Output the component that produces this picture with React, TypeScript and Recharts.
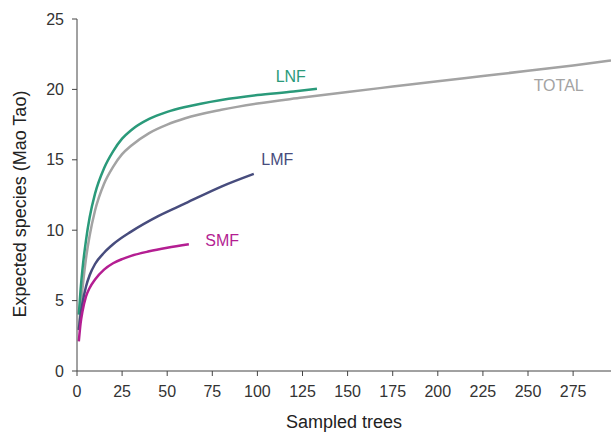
import { LineChart, Line, XAxis, YAxis, ReferenceDot, Label } from 'recharts';

// rarefaction curves, values
const totalTrees = [1, 2, 3, 5, 7, 10, 15, 20, 25, 30, 40, 50, 60, 80, 100, 125, 150, 175, 200, 225, 250, 275, 296];
const totalSpecies = [3.0, 4.5, 5.8, 8.0, 9.6, 11.4, 13.3, 14.5, 15.4, 16.0, 16.9, 17.5, 17.95, 18.55, 19.0, 19.42, 19.82, 20.2, 20.58, 20.95, 21.32, 21.7, 22.05];

const lnfTrees = [1, 2, 3, 5, 7, 10, 15, 20, 25, 30, 40, 50, 60, 80, 100, 120, 133];
const lnfSpecies = [4.0, 5.8, 7.2, 9.3, 10.9, 12.6, 14.4, 15.6, 16.5, 17.1, 17.9, 18.4, 18.75, 19.25, 19.6, 19.85, 20.05];

const lmfTrees = [1, 2, 3, 5, 7, 10, 15, 20, 30, 45, 60, 80, 98];
const lmfSpecies = [2.9, 4.0, 4.8, 6.0, 6.8, 7.6, 8.4, 9.0, 9.9, 11.0, 11.9, 13.1, 14.0];

const smfTrees = [1, 2, 3, 5, 7, 10, 15, 20, 25, 30, 40, 50, 62];
const smfSpecies = [2.1, 3.4, 4.2, 5.3, 5.9, 6.5, 7.2, 7.65, 7.95, 8.18, 8.5, 8.75, 9.0];

const xTicks = [0, 25, 50, 75, 100, 125, 150, 175, 200, 225, 250, 275];
const yTicks = [0, 5, 10, 15, 20, 25];

const toPoints = (xs: number[], ys: number[]) => xs.map((x, i) => ({ x, y: ys[i] }));

const series = [
  { name: 'TOTAL', color: '#a3a3a3', data: toPoints(totalTrees, totalSpecies), labelAt: [267, 20.3] },
  { name: 'LNF', color: '#2a9a7a', data: toPoints(lnfTrees, lnfSpecies), labelAt: [118.5, 20.9] },
  { name: 'LMF', color: '#474c7d', data: toPoints(lmfTrees, lmfSpecies), labelAt: [111, 15.05] },
  { name: 'SMF', color: '#b41e92', data: toPoints(smfTrees, smfSpecies), labelAt: [80.5, 9.3] },
];

const axisColor = '#444';

export default function App() {
  return (
    <div style={{ position: 'absolute', left: 0, top: 0, fontFamily: '"Liberation Sans", Arial, sans-serif' }}>
      <LineChart width={611} height={433} margin={{ top: 19, right: 0, bottom: 0, left: 0 }}>
        <XAxis
          type="number"
          dataKey="x"
          domain={[0, 296]}
          ticks={xTicks}
          height={62}
          stroke={axisColor}
          tickSize={5}
          tickMargin={10}
          tick={{ fill: '#333', fontSize: 16 }}
        >
          <Label value="Sampled trees" position="insideBottom" offset={5} fill="#222" fontSize={18} />
        </XAxis>
        <YAxis
          type="number"
          domain={[0, 25]}
          ticks={yTicks}
          width={77}
          stroke={axisColor}
          tickSize={5}
          tickMargin={8}
          tick={{ fill: '#333', fontSize: 16 }}
        >
          <Label
            content={() => (
              <text x={25.6} y={204} transform="rotate(-90, 25.6, 204)" textAnchor="middle" fill="#222" fontSize={18}>
                Expected species (Mao Tao)
              </text>
            )}
          />
        </YAxis>
        {series.map(s => (
          <Line
            key={s.name}
            data={s.data}
            dataKey="y"
            type="monotone"
            stroke={s.color}
            strokeWidth={2.5}
            dot={false}
            isAnimationActive={false}
          />
        ))}
        {series.map(s => (
          <ReferenceDot
            key={'lbl' + s.name}
            x={s.labelAt[0]}
            y={s.labelAt[1]}
            r={0}
            stroke="none"
            fill="none"
            label={{ value: s.name, fill: s.color, fontSize: 16, position: 'center' }}
          />
        ))}
      </LineChart>
    </div>
  );
}
